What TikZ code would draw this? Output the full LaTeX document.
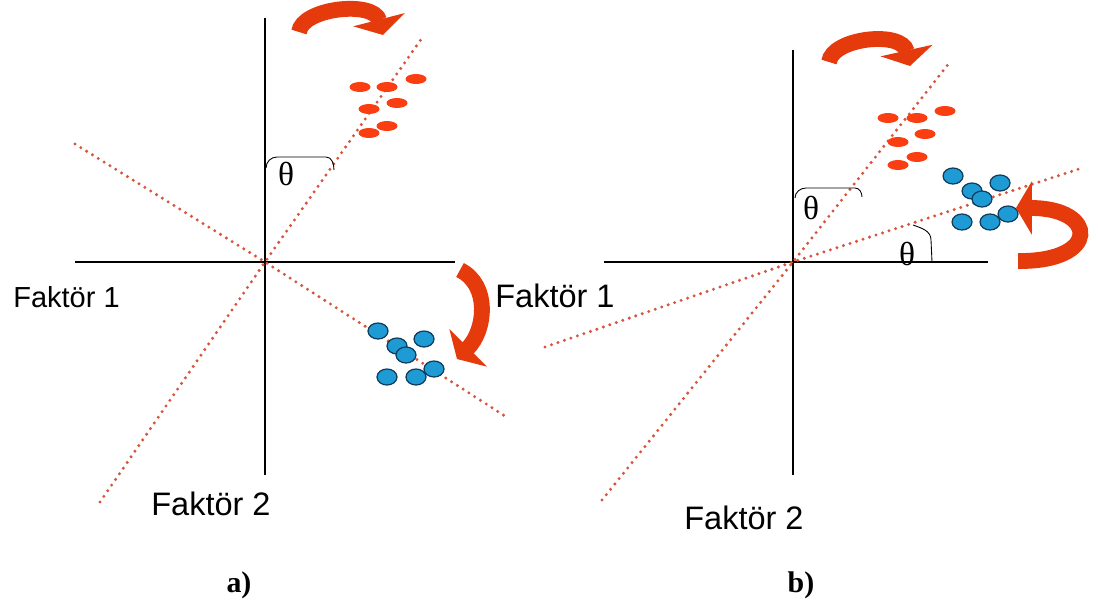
\documentclass[tikz,border=0pt]{standalone}
\usepackage{fontspec}
\setmainfont{Liberation Sans}
\newfontfamily\timesfont{Liberation Serif}
\usepackage{tikz}
\usetikzlibrary{arrows.meta}

\definecolor{dotred}{RGB}{250,62,18}
\definecolor{linered}{RGB}{215,85,60}
\definecolor{dotblue}{RGB}{30,155,212}
\definecolor{rimblue}{RGB}{15,60,90}
\definecolor{arrowred}{RGB}{228,58,12}

\tikzset{
	axisline/.style={line width=0.7pt},
	factorline/.style={linered, line width=1.9pt, line cap=round, dash pattern=on 0pt off 3.9pt},
	rotarrow/.style={arrowred, line width=9pt, -{Triangle[width=30pt,length=9pt]}},
	bracket/.style={line width=0.5pt},
	faktor/.style={font=\fontsize{18.5}{21}\selectfont, anchor=base west, inner sep=0pt},
	theta/.style={font=\timesfont\fontsize{19}{21}\selectfont, inner sep=0pt},
	panel/.style={font=\timesfont\bfseries\fontsize{17}{19}\selectfont, inner sep=0pt}
}

\begin{document}
\begin{tikzpicture}[x=0.02cm,y=-0.02cm]
			\useasboundingbox (0,0) rectangle (1098,615);

			% a)
			\coordinate (Oa) at (265,262);
			\coordinate (Na) at (265,18);
			\coordinate (Sa) at (265,475);
			\coordinate (Wa) at (75,262);
			\coordinate (Ea) at (455,262);
			\coordinate (F1a) at (100,502);
			\coordinate (F1b) at (422,38);
			\coordinate (F2a) at (75,144);
			\coordinate (F2b) at (508,418);

			\draw[axisline] (Na) -- (Sa);
			\draw[axisline] (Wa) -- (Ea);
			\draw[factorline] (F1a) -- (Oa) -- (F1b);
			\draw[factorline] (F2a) -- (Oa) -- (F2b);

			\draw[bracket] (266,168) to[out=90,in=180] (277,157) -- (326,157) to[out=0,in=90] (334,170);
			\node[theta] (tha) at (286,174) {θ};

			\foreach \x/\y in {360/87, 387/87, 416/79, 397/103, 369/109, 387/126, 369/133}{
				\fill[dotred] (\x,\y) ellipse [x radius=10.5, y radius=5];
			}
			\foreach \x/\y in {378/331, 424/339, 397/346, 406/355, 434/369, 387/377, 416/377}{
				\filldraw[fill=dotblue, draw=rimblue, line width=0.7pt] (\x,\y) ellipse [x radius=10, y radius=8];
			}

			\draw[rotarrow] (299,32) .. controls (302,8) and (374,0) .. (383,35);
			\draw[rotarrow] (460,270) .. controls (490,285) and (486,330) .. (457,359);

			\node[faktor, font=\fontsize{16.5}{18}\selectfont] (f1l) at (13,307) {Faktör 1};
			\node[faktor] (f1r) at (495,307) {Faktör 1};
			\node[faktor] (f2a) at (151,515) {Faktör 2};
			\node[panel] (pa) at (239,585) {a)};

			% b)
			\coordinate (Ob) at (793,262);
			\coordinate (Nb) at (793,50);
			\coordinate (Sb) at (793,475);
			\coordinate (Wb) at (604,262);
			\coordinate (Eb) at (988,262);
			\coordinate (G1a) at (602,500);
			\coordinate (G1b) at (950,62);
			\coordinate (G2a) at (545,347);
			\coordinate (G2b) at (1082,168);

			\draw[axisline] (Nb) -- (Sb);
			\draw[axisline] (Wb) -- (Eb);
			\draw[factorline] (G1a) -- (Ob) -- (G1b);
			\draw[factorline] (G2a) -- (Ob) -- (G2b);

			\draw[bracket] (795,198) to[out=90,in=180] (806,188) -- (855,188) to[out=0,in=90] (862,197);
			\draw[bracket] (913,225) to[out=-20,in=90] (931,240) -- (932,262);
			\node[theta] (thb1) at (811,208) {θ};
			\node[theta] (thb2) at (907,254) {θ};

			\foreach \x/\y in {888/118, 917/118, 945/111, 925/134, 898/142, 917/157, 898/165}{
				\fill[dotred] (\x,\y) ellipse [x radius=10.5, y radius=5];
			}
			\foreach \x/\y in {953/176, 1000/183, 972/191, 982/199, 1008/214, 962/222, 990/222}{
				\filldraw[fill=dotblue, draw=rimblue, line width=0.7pt] (\x,\y) ellipse [x radius=10, y radius=8];
			}

			\draw[rotarrow] (829,62) .. controls (832,38) and (902,30) .. (910,66);
			\draw[rotarrow] (1018,261) .. controls (1100,262) and (1098,208) .. (1016,208);

			\node[faktor] (f2b) at (684,529) {Faktör 2};
			\node[panel] (pb) at (801,585) {b)};
		\end{tikzpicture}
\end{document}
